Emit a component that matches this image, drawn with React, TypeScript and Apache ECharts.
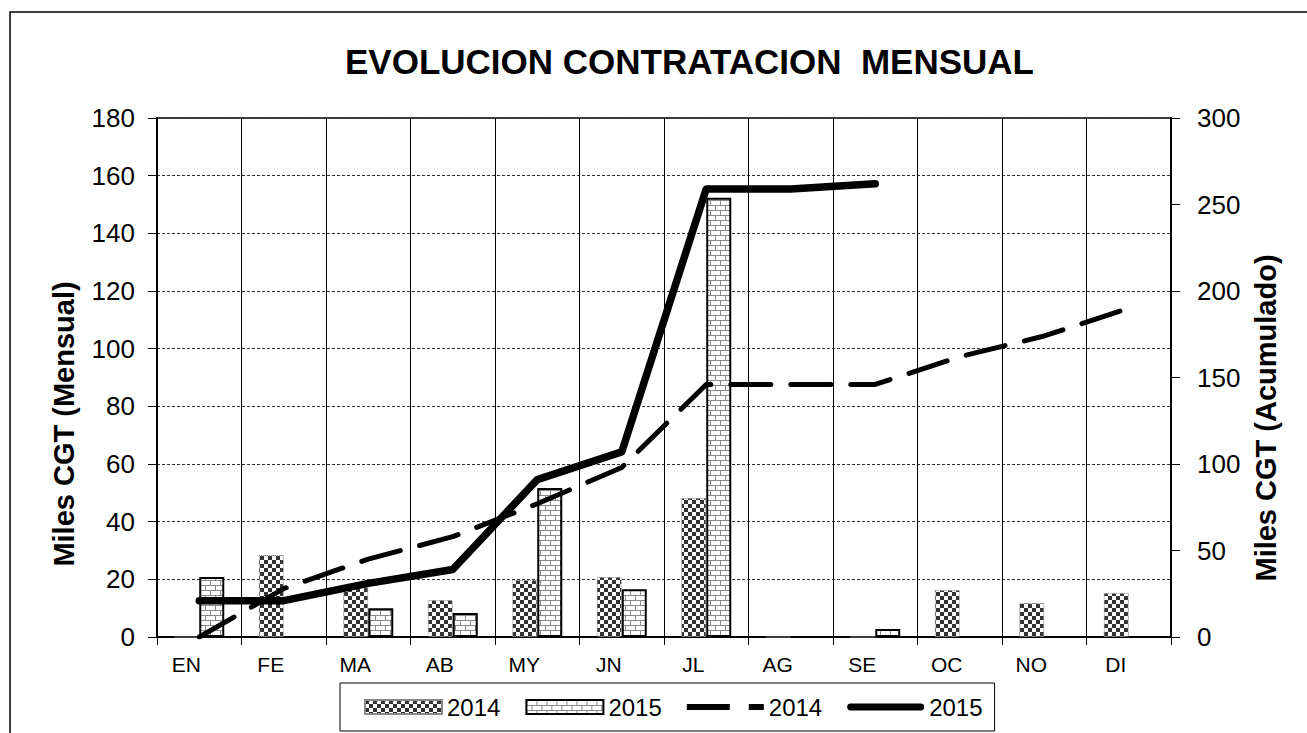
import React, { useEffect, useRef } from 'react';
import * as echarts from 'echarts';

const months = ['EN', 'FE', 'MA', 'AB', 'MY', 'JN', 'JL', 'AG', 'SE', 'OC', 'NO', 'DI'];
const monthly2014 = [0, 28.4, 17.3, 12.8, 19.8, 20.8, 48.2, 0, 0, 16.3, 11.8, 15.3];
const monthly2015 = [20.8, 0, 10, 8.3, 51.7, 16.6, 152.3, 0, 2.8, null, null, null];
const cumulative2014 = [0, 28, 45, 58, 77, 98, 146, 146, 146, 162, 174, 190];
const cumulative2015 = [21, 21, 31, 39, 91, 107, 259, 259, 262];
const titleText = 'EVOLUCION CONTRATACION  MENSUAL';
const leftAxisName = 'Miles CGT (Mensual)';
const rightAxisName = 'Miles CGT (Acumulado)';

const FONT = "'Liberation Sans', Arial, sans-serif";

const DASH_ICON =
  'path://M0,0L0.01,0L0.01,0.01Z M0,4H43V10H0Z M62,4H77V10H62Z M0,14L0.01,14L0.01,13.99Z';
const SOLID_ICON =
  'path://M0,0L0.01,0L0.01,0.01Z M3,3.5H74A3.5,3.5,0,0,1,74,10.5H3A3.5,3.5,0,0,1,3,3.5Z M0,14L0.01,14L0.01,13.99Z';

function makeChecker(): HTMLCanvasElement {
  const c = document.createElement('canvas');
  c.width = 8;
  c.height = 8;
  const g = c.getContext('2d')!;
  g.fillStyle = '#ffffff';
  g.fillRect(0, 0, 8, 8);
  g.fillStyle = '#333333';
  g.fillRect(0, 0, 4, 4);
  g.fillRect(4, 4, 4, 4);
  return c;
}

function makeBrick(): HTMLCanvasElement {
  const c = document.createElement('canvas');
  c.width = 10;
  c.height = 10;
  const g = c.getContext('2d')!;
  g.fillStyle = '#ffffff';
  g.fillRect(0, 0, 10, 10);
  g.fillStyle = '#8a8a8a';
  g.fillRect(0, 0, 10, 1);
  g.fillRect(0, 5, 10, 1);
  g.fillRect(0, 0, 1, 5);
  g.fillRect(5, 5, 1, 5);
  return c;
}

export default function App() {
  const ref = useRef<HTMLDivElement>(null);
  useEffect(() => {
    if (!ref.current) return;
    const chart = echarts.init(ref.current, undefined, { renderer: 'svg' });
    const checker = { image: makeChecker(), repeat: 'repeat' };
    const brick = { image: makeBrick(), repeat: 'repeat' };
    chart.setOption({
      animation: false,
      backgroundColor: '#ffffff',
      textStyle: { fontFamily: FONT },
      title: {
        text: titleText,
        left: 340,
        top: 39,
        textStyle: { fontFamily: FONT, fontSize: 35, fontWeight: 'bold', color: '#000' },
      },
      graphic: [
        {
          type: 'rect',
          shape: { x: 10, y: 12, width: 1400, height: 800 },
          style: { fill: 'none', stroke: '#000', lineWidth: 1.5 },
          silent: true,
          z: -10,
        },
        {
          type: 'text',
          x: 64,
          y: 424,
          rotation: Math.PI / 2,
          style: {
            text: leftAxisName,
            font: `bold 29px ${FONT}`,
            fill: '#000',
            textAlign: 'center',
            textVerticalAlign: 'middle',
          },
        },
        {
          type: 'text',
          x: 1266,
          y: 418,
          rotation: Math.PI / 2,
          style: {
            text: rightAxisName,
            font: `bold 29px ${FONT}`,
            fill: '#000',
            textAlign: 'center',
            textVerticalAlign: 'middle',
          },
        },
      ],
      grid: {
        left: 157,
        right: 136,
        top: 118,
        bottom: 96,
        show: true,
        borderColor: '#000',
        borderWidth: 1.5,
        backgroundColor: '#fff',
      },
      legend: {
        left: 340,
        top: 683,
        padding: [12, 12, 12, 24],
        borderColor: '#000',
        borderWidth: 1,
        itemWidth: 77,
        itemHeight: 14,
        itemGap: 25,
        textStyle: { fontFamily: FONT, fontSize: 24, color: '#000' },
        data: [
          { name: '2014 ', icon: 'rect' },
          { name: '2015 ', icon: 'rect' },
          { name: '2014', icon: DASH_ICON, itemStyle: { color: '#000' } },
          { name: '2015', icon: SOLID_ICON, itemStyle: { color: '#000' } },
        ],
        formatter: (n: string) => n.trim(),
      },
      xAxis: {
        type: 'category',
        data: months,
        boundaryGap: true,
        axisLine: { lineStyle: { color: '#000', width: 2 } },
        axisTick: { show: true, length: 8, lineStyle: { color: '#000', width: 1 } },
        axisLabel: {
          fontFamily: FONT,
          fontSize: 21,
          color: '#000',
          margin: 17,
          padding: [0, 26, 0, 0],
        },
        splitLine: { show: true, lineStyle: { color: '#000', width: 1 } },
      },
      yAxis: [
        {
          type: 'value',
          min: 0,
          max: 180,
          interval: 20,
          axisLine: { show: true, lineStyle: { color: '#000', width: 2 } },
          axisTick: { show: true, length: 9, lineStyle: { color: '#000', width: 1 } },
          axisLabel: { fontFamily: FONT, fontSize: 26, color: '#000', margin: 22 },
          splitLine: { show: true, lineStyle: { color: '#333', width: 1, type: [3, 2] } },
        },
        {
          type: 'value',
          min: 0,
          max: 300,
          interval: 50,
          position: 'right',
          axisLine: { show: true, lineStyle: { color: '#000', width: 2 } },
          axisTick: { show: true, length: 9, lineStyle: { color: '#000', width: 1 } },
          axisLabel: { fontFamily: FONT, fontSize: 26, color: '#000', margin: 26 },
          splitLine: { show: false },
        },
      ],
      series: [
        {
          name: '2014 ',
          type: 'bar',
          yAxisIndex: 0,
          data: monthly2014,
          barWidth: 25,
          barGap: '0%',
          itemStyle: {
            color: checker,
            borderColor: '#888',
            borderWidth: 1,
            borderType: 'dotted',
          },
          z: 2,
        },
        {
          name: '2015 ',
          type: 'bar',
          yAxisIndex: 0,
          data: monthly2015,
          barWidth: 25,
          barGap: '0%',
          itemStyle: {
            color: brick,
            borderColor: '#000',
            borderWidth: 2,
          },
          z: 2,
        },
        {
          name: '2014',
          type: 'line',
          yAxisIndex: 1,
          data: cumulative2014,
          symbol: 'none',
          itemStyle: { color: '#000' },
          lineStyle: { color: '#000', width: 5, type: [40, 20], cap: 'round' },
          z: 3,
        },
        {
          name: '2015',
          type: 'line',
          yAxisIndex: 1,
          data: cumulative2015,
          symbol: 'none',
          itemStyle: { color: '#000' },
          lineStyle: { color: '#000', width: 7.5, cap: 'round', join: 'round' },
          z: 4,
        },
      ],
    });
    return () => chart.dispose();
  }, []);
  return (
    <div
      ref={ref}
      style={{ position: 'fixed', left: 0, top: 0, width: 1307, height: 733 }}
    />
  );
}
